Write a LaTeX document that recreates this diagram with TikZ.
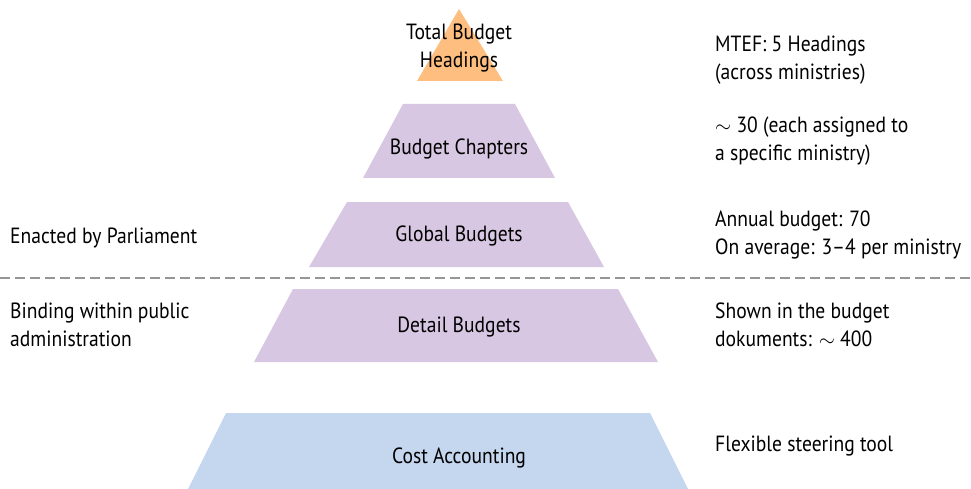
\documentclass[tikz,border=0pt]{standalone}
\usepackage{fontspec}
\setmainfont{PT Sans}[FakeStretch=0.89]
\begin{document}
\definecolor{headorange}{RGB}{253,190,128}
\definecolor{tierpurple}{RGB}{216,199,226}
\definecolor{costblue}{RGB}{197,214,239}
\definecolor{dashgray}{RGB}{150,150,150}
\begin{tikzpicture}[x=1pt,y=-1pt,
  lbl/.style={font=\fontsize{22}{27.5}\selectfont, inner sep=0pt, align=center},
  side/.style={font=\fontsize{22}{27.5}\selectfont, inner sep=0pt, align=left, anchor=west}]
\useasboundingbox (0,0) rectangle (971,489);
% pyramid tiers
\fill[headorange] (459,9) -- (503,81) -- (417,81) -- cycle;
\fill[tierpurple] (403,104) -- (515,104) -- (555,178) -- (363,178) -- cycle;
\fill[tierpurple] (347,202) -- (568,202) -- (604,267) -- (309,267) -- cycle;
\fill[tierpurple] (293,289) -- (618,289) -- (658,362) -- (254,362) -- cycle;
\fill[costblue] (226,413) -- (650,413) -- (688,489) -- (188,489) -- cycle;
% separation between enacted and binding levels
\coordinate (sepL) at (0,278);
\coordinate (sepR) at (971,278);
\draw[dashgray, line width=2.5pt, dash pattern=on 10pt off 5pt] (sepL) -- (sepR);
% tier labels
\node[lbl] (heading) at (459,48) {Total Budget\\Headings};
\node[lbl] (chapters) at (459,149) {Budget Chapters};
\node[lbl] (global) at (459,236) {Global Budgets};
\node[lbl] (detail) at (459,327) {Detail Budgets};
\node[lbl] (cost) at (459,458) {Cost Accounting};
% right-hand notes
\node[side] (n1) at (715,60) {MTEF: 5 Headings\\(across ministries)};
\node[side] (n2) at (715,141) {$\sim$ 30 (each assigned to\\a specific ministry)};
\node[side] (n3) at (715,235) {Annual budget: 70\\On average: 3--4 per ministry};
\node[side] (n4) at (715,325) {Shown in the budget\\dokuments: $\sim$ 400};
\node[side] (n5) at (715,446) {Flexible steering tool};
% left-hand notes
\node[side] (l1) at (10,238) {Enacted by Parliament};
\node[side] (l2) at (10,325) {Binding within public\\administration};
\end{tikzpicture}
\end{document}
